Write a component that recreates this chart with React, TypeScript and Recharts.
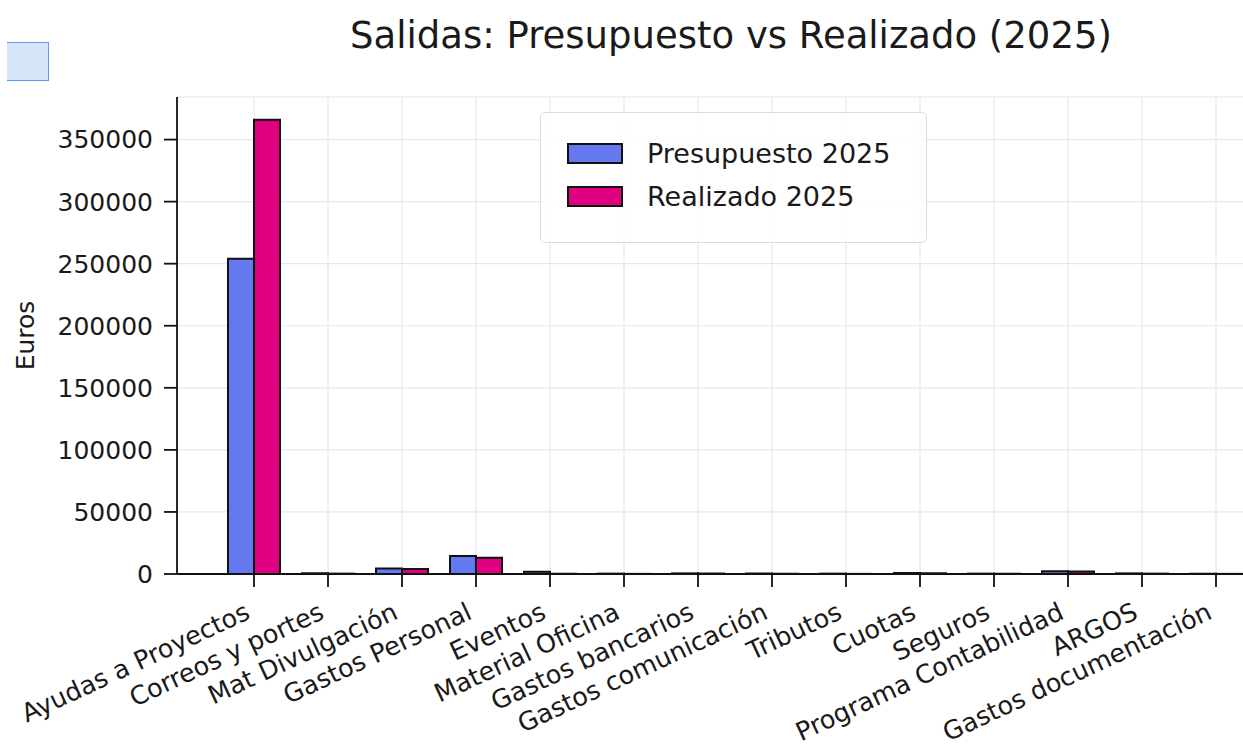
import { Bar, BarChart, CartesianGrid, Legend, XAxis, YAxis } from "recharts";

const categories = [
  "Ayudas a Proyectos",
  "Correos y portes",
  "Mat Divulgación",
  "Gastos Personal",
  "Eventos",
  "Material Oficina",
  "Gastos bancarios",
  "Gastos comunicación",
  "Tributos",
  "Cuotas",
  "Seguros",
  "Programa Contabilidad",
  "ARGOS",
  "Gastos documentación",
];

const presupuesto2025 = [254000, 600, 4500, 14500, 1800, 300, 500, 400, 300, 800, 300, 2200, 500, 200];
const realizado2025 = [366000, 300, 4000, 13000, 200, 100, 400, 200, 100, 600, 200, 2000, 300, 100];

const yTicks = [0, 50000, 100000, 150000, 200000, 250000, 300000, 350000];

const BLUE = "#6479ef";
const PINK = "#e0007f";
const FONT = "'DejaVu Sans', sans-serif";

const rows = categories.map((name, i) => ({
  name,
  presupuesto: presupuesto2025[i],
  realizado: realizado2025[i],
}));

const yMax = Math.max(...presupuesto2025, ...realizado2025) * 1.05;

function RotatedTick(props: any) {
  const { x, y, payload } = props;
  const tx = x - 2.5;
  const ty = y + 29;
  return (
    <text
      x={tx}
      y={ty}
      transform={`rotate(-25, ${tx}, ${ty})`}
      textAnchor="end"
      fontSize={25.5}
      fontFamily={FONT}
      fill="#1a1a1a"
    >
      {payload.value}
    </text>
  );
}

function EurosLabel(props: any) {
  const vb = props.viewBox || { x: 0, y: 97, width: 177, height: 477 };
  const cy = vb.y + vb.height / 2;
  return (
    <text
      x={34}
      y={cy}
      transform={`rotate(-90, 34, ${cy})`}
      textAnchor="middle"
      fontSize={25}
      fontFamily={FONT}
      fill="#1a1a1a"
    >
      Euros
    </text>
  );
}

function LegendBox() {
  const items = [
    { label: "Presupuesto 2025", color: BLUE },
    { label: "Realizado 2025", color: PINK },
  ];
  return (
    <div
      style={{
        width: 387,
        height: 131,
        boxSizing: "border-box",
        border: "1.5px solid #dcdcdc",
        borderRadius: 5,
        background: "rgba(255,255,255,0.85)",
        paddingTop: 19,
        paddingLeft: 26,
        fontFamily: FONT,
      }}
    >
      {items.map((it) => (
        <div key={it.label} style={{ display: "flex", alignItems: "center", height: 43 }}>
          <div
            style={{
              width: 56,
              height: 21,
              boxSizing: "border-box",
              background: it.color,
              border: "2px solid #111",
            }}
          />
          <span style={{ marginLeft: 24, fontSize: 27, color: "#1a1a1a", lineHeight: "27px" }}>
            {it.label}
          </span>
        </div>
      ))}
    </div>
  );
}

export default function App() {
  return (
    <div
      style={{
        position: "absolute",
        left: 0,
        top: 0,
        width: 1243,
        height: 749,
        overflow: "hidden",
        background: "#fff",
      }}
    >
      <div
        style={{
          position: "absolute",
          left: 7,
          top: 42,
          width: 41,
          height: 37,
          background: "#d5e6fb",
          borderTop: "1.5px solid #5a9cf2",
          borderRight: "1.5px solid #5a9cf2",
          borderBottom: "1.5px solid #5a9cf2",
        }}
      />
      <div
        style={{
          position: "absolute",
          left: 231,
          top: 14,
          width: 1000,
          textAlign: "center",
          fontFamily: FONT,
          fontSize: 37,
          color: "#1a1a1a",
          whiteSpace: "nowrap",
        }}
      >
        Salidas: Presupuesto vs Realizado (2025)
      </div>
      <BarChart
        width={1300}
        height={749}
        data={rows}
        margin={{ top: 97, right: 8, bottom: 0, left: 0 }}
        barCategoryGap={11}
        barGap={0}
        style={{ position: "absolute", left: 0, top: 0 }}
      >
        <CartesianGrid stroke="#e6e6ee" strokeWidth={1.2} />
        <XAxis
          dataKey="name"
          interval={0}
          padding={{ left: 40, right: 39 }}
          height={175}
          tick={<RotatedTick />}
          tickSize={13}
          tickMargin={2}
          axisLine={{ stroke: "#111", strokeWidth: 1.8 }}
          tickLine={{ stroke: "#111", strokeWidth: 1.8 }}
        />
        <YAxis
          width={177}
          domain={[0, yMax]}
          ticks={yTicks}
          tickSize={13}
          tickMargin={11}
          tick={{ fontSize: 25, fontFamily: FONT, fill: "#1a1a1a" }}
          axisLine={{ stroke: "#111", strokeWidth: 1.8 }}
          tickLine={{ stroke: "#111", strokeWidth: 1.8 }}
          label={<EurosLabel />}
        />
        <Legend
          layout="horizontal"
          verticalAlign="middle"
          align="center"
          content={() => <LegendBox />}
          wrapperStyle={{ left: 540, top: 112, width: 387, height: 131 }}
        />
        <Bar
          dataKey="presupuesto"
          name="Presupuesto 2025"
          fill={BLUE}
          stroke="#111"
          strokeWidth={2}
          isAnimationActive={false}
        />
        <Bar
          dataKey="realizado"
          name="Realizado 2025"
          fill={PINK}
          stroke="#111"
          strokeWidth={2}
          isAnimationActive={false}
        />
      </BarChart>
    </div>
  );
}
